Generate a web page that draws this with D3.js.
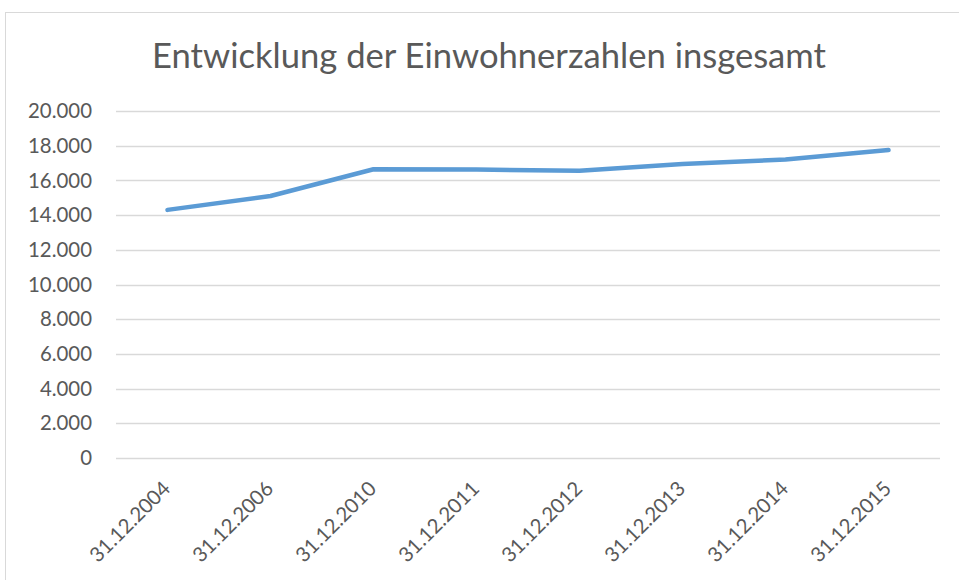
<!DOCTYPE html>
<html><head><meta charset="utf-8">
<script src="https://cdn.jsdelivr.net/npm/d3@7"></script>
<style>html,body{margin:0;padding:0;background:#fff;overflow:hidden}</style>
</head><body>
<script>
const categories = ["31.12.2004","31.12.2006","31.12.2010","31.12.2011","31.12.2012","31.12.2013","31.12.2014","31.12.2015"];
const values = [14300, 15100, 16640, 16630, 16550, 16950, 17200, 17750];
const yTicks = [0,2000,4000,6000,8000,10000,12000,14000,16000,18000,20000];
const title = "Entwicklung der Einwohnerzahlen insgesamt";

const W = 959, H = 580;
const FONT = "Lato, 'Open Sans', sans-serif";
const WEIGHT = 400;
const svg = d3.select("body").append("svg").attr("width", W).attr("height", H);

svg.append("rect").attr("x",5.5).attr("y",12.5).attr("width",W+20).attr("height",H+20)
  .attr("fill","#fff").attr("stroke","#d9d9d9").attr("stroke-width",1);

const x = d3.scaleBand().domain(categories).range([116, 940]);
const y = d3.scaleLinear().domain([0, 20000]).range([458, 111]);
const fmt = v => d3.format(",")(v).replace(/,/g, ".");

function fitSize(text, target, start) {
  const t = svg.append("text").attr("font-family", FONT).attr("font-weight", WEIGHT).attr("font-size", start).text(text);
  const w = t.node().getComputedTextLength();
  t.remove();
  return start * target / w;
}
const tickSize = fitSize("20.000", 64, 20);
const xSize = fitSize("31.12.2004", 104, 20);
const titleSize = fitSize(title, 674, 30);

// gridlines
svg.append("g").selectAll("line").data(yTicks).join("line")
  .attr("x1", 116).attr("x2", 940)
  .attr("y1", d => Math.round(y(d)) + 0.5).attr("y2", d => Math.round(y(d)) + 0.5)
  .attr("stroke", "#d9d9d9").attr("stroke-width", 1.3);

// y labels
svg.append("g").selectAll("text").data(yTicks).join("text")
  .attr("x", 92).attr("y", d => y(d)).attr("dy", "0.35em")
  .attr("text-anchor", "end").attr("font-family", FONT).attr("font-weight", WEIGHT).attr("font-size", tickSize)
  .attr("fill", "#595959").text(fmt);

// x labels
svg.append("g").selectAll("text").data(categories).join("text")
  .attr("transform", d => `translate(${x(d) + x.bandwidth()/2 + 4},490) rotate(-45)`)
  .attr("text-anchor", "end").attr("font-family", FONT).attr("font-weight", WEIGHT).attr("font-size", xSize)
  .attr("fill", "#595959").text(d => d);

// line
const line = d3.line().x((d,i) => x(categories[i]) + x.bandwidth()/2).y(d => y(d));
svg.append("path").datum(values).attr("d", line)
  .attr("fill", "none").attr("stroke", "#5b9bd5").attr("stroke-width", 4.5)
  .attr("stroke-linecap", "round").attr("stroke-linejoin", "round");

// title
svg.append("text").attr("x", 489).attr("y", 68).attr("text-anchor", "middle")
  .attr("font-family", FONT).attr("font-weight", WEIGHT).attr("font-size", titleSize).attr("fill", "#595959").text(title);
</script>
</body></html>
